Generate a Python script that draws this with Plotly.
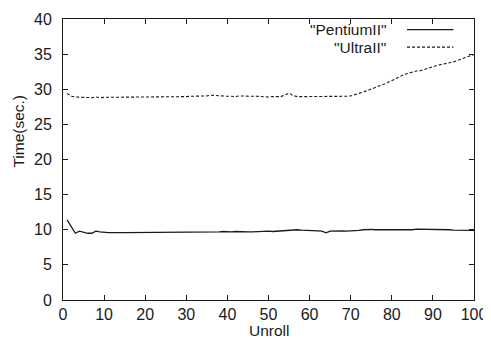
import plotly.graph_objects as go

unroll = list(range(1, 101))

pentium = [
    11.4, 10.4, 9.5, 9.8, 9.6, 9.5, 9.5, 9.8, 9.7, 9.6,
    9.6, 9.6, 9.65, 9.6, 9.6, 9.6, 9.65, 9.6, 9.6, 9.65,
    9.6, 9.65, 9.65, 9.7, 9.65, 9.6, 9.65, 9.7, 9.65, 9.6,
    9.65, 9.7, 9.6, 9.65, 9.7, 9.7, 9.65, 9.7, 9.75, 9.7,
    9.7, 9.75, 9.7, 9.75, 9.7, 9.7, 9.75, 9.7, 9.75, 9.8,
    9.75, 9.8, 9.75, 9.8, 9.9, 10.0, 10.0, 9.95, 9.95, 9.9,
    9.9, 9.85, 9.8, 9.55, 9.8, 9.85, 9.85, 9.85, 9.8, 9.8,
    9.85, 9.9, 10.0, 10.05, 10.05, 10.0, 10.0, 10.0, 10.0, 10.0,
    9.95, 9.95, 9.95, 9.9, 10.0, 10.1, 10.1, 10.1, 10.05, 10.05,
    10.05, 10.0, 10.0, 10.0, 9.95, 9.95, 9.95, 9.9, 9.9, 9.9,
]

ultra = [
    29.4, 29.0, 28.9, 28.85, 28.8, 28.75, 28.8, 28.9, 28.8, 28.85,
    28.85, 28.9, 28.9, 28.85, 28.9, 28.9, 28.9, 28.9, 28.9, 28.9,
    28.9, 28.9, 28.9, 28.95, 28.9, 28.9, 28.9, 28.9, 28.95, 28.95,
    29.0, 29.0, 29.0, 29.0, 29.05, 29.15, 29.1, 29.0, 28.95, 29.0,
    29.0, 28.95, 29.05, 29.0, 28.95, 29.0, 29.0, 28.95, 28.9, 28.9,
    28.95, 28.9, 28.95, 29.2, 29.45, 29.1, 28.95, 28.95, 28.95, 28.95,
    28.95, 28.95, 28.9, 28.9, 28.9, 28.95, 28.95, 28.95, 29.0, 29.05,
    29.2, 29.4, 29.6, 29.8, 30.0, 30.2, 30.45, 30.7, 30.95, 31.2,
    31.5, 31.8, 32.1, 32.3, 32.45, 32.6, 32.65, 32.8, 33.0, 33.2,
    33.4, 33.5, 33.6, 33.75, 33.9, 34.1, 34.3, 34.5, 34.7, 34.95,
]

series_names = ['"PentiumII"', '"UltraII"']
x_ticks = [0, 10, 20, 30, 40, 50, 60, 70, 80, 90, 100]
y_ticks = [0, 5, 10, 15, 20, 25, 30, 35, 40]
x_title = "Unroll"
y_title = "Time(sec.)"

FONT = "Liberation Sans, Arial, Helvetica, sans-serif"
INK = "#1a1a1a"

fig = go.Figure()
fig.add_trace(go.Scatter(x=unroll, y=pentium, mode="lines", name=series_names[0],
                         line=dict(color=INK, width=1.3)))
fig.add_trace(go.Scatter(x=unroll, y=ultra, mode="lines", name=series_names[1],
                         line=dict(color=INK, width=1.1, dash="3px,2px")))

axis_common = dict(showgrid=False, zeroline=False, showline=True, linecolor=INK,
                   linewidth=1, mirror="ticks", ticks="inside", ticklen=5,
                   tickcolor=INK, automargin=False,
                   tickfont=dict(family=FONT, size=16, color=INK))

fig.update_xaxes(range=[0, 100], tickvals=x_ticks, **axis_common)
fig.update_yaxes(range=[0, 40], tickvals=y_ticks, ticklabelstandoff=7, **axis_common)

# axis titles
fig.add_annotation(xref="paper", yref="paper", x=0.5, y=-0.11, text=x_title,
                   showarrow=False, xanchor="center", yanchor="middle",
                   font=dict(family=FONT, size=15.5, color=INK))
fig.add_annotation(xref="paper", yref="paper", x=-0.109, y=0.6, text=y_title,
                   showarrow=False, xanchor="center", yanchor="middle", textangle=-90,
                   font=dict(family=FONT, size=15.5, color=INK))

# gnuplot-style key: text right-aligned, sample line to the right
key_rows = [(0.962, "solid", 1.3), (0.90, "3px,2px", 1.1)]
for (yk, dash, w), name in zip(key_rows, series_names):
    fig.add_annotation(xref="paper", yref="paper", x=0.79, y=yk, text=name,
                       showarrow=False, xanchor="right", yanchor="middle",
                       font=dict(family=FONT, size=15.5, color=INK))
    fig.add_shape(type="line", xref="paper", yref="paper", x0=0.837, x1=0.95, y0=yk, y1=yk,
                  line=dict(color=INK, width=w, dash=dash))

# page body has an 8px margin, so the figure is drawn 8px in from the top-left
fig.update_layout(width=483, height=339, margin=dict(l=55, r=17, t=11, b=47),
                  paper_bgcolor="white", plot_bgcolor="white", showlegend=False,
                  font=dict(family=FONT, size=16, color=INK))

fig.write_html("out.html")
